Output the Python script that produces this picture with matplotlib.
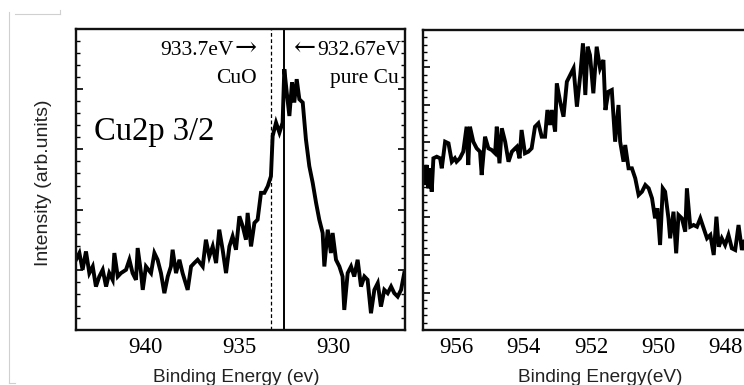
import matplotlib
matplotlib.use("Agg")
import matplotlib.pyplot as plt
from matplotlib.ticker import MultipleLocator, NullFormatter
from matplotlib.lines import Line2D

# ---------------- data ----------------
# Cu 2p3/2 region
cu_energy = [943.67, 943.49, 943.32, 943.14, 942.96, 942.78, 942.61, 942.43, 942.25, 942.07,
             941.90, 941.72, 941.63, 941.45, 941.28, 941.01, 940.83, 940.66, 940.48, 940.39,
             940.21, 940.12, 939.95, 939.68, 939.50, 939.33, 939.15, 938.97, 938.79, 938.62,
             938.53, 938.35, 938.17, 938.00, 937.73, 937.55, 937.38, 937.20, 936.93, 936.76,
             936.58, 936.40, 936.22, 936.05, 935.87, 935.69, 935.51, 935.34, 935.16, 934.98,
             934.80, 934.63, 934.54, 934.36, 934.18, 934.01, 933.83, 933.65, 933.47, 933.30,
             933.21, 933.03, 932.85, 932.68, 932.59, 932.46, 932.32, 932.18, 932.06, 931.93,
             931.79, 931.61, 931.44, 931.26, 931.08, 930.90, 930.73, 930.55, 930.46, 930.28,
             930.11, 930.02, 929.84, 929.66, 929.49, 929.40, 929.22, 929.04, 928.87, 928.69,
             928.51, 928.33, 928.16, 927.98, 927.80, 927.62, 927.45, 927.27, 927.09, 926.91,
             926.74, 926.56, 926.38, 926.21]
cu_intensity = [70.0, 76.7, 60.0, 78.3, 56.7, 63.3, 43.3, 53.3, 60.0, 43.3,
                56.7, 50.0, 76.7, 53.3, 56.7, 60.0, 70.0, 56.7, 50.0, 81.7,
                56.7, 40.0, 63.3, 56.7, 76.7, 70.0, 56.7, 36.7, 53.3, 63.3,
                80.0, 56.7, 70.0, 56.7, 40.0, 63.3, 66.7, 70.0, 63.3, 90.0,
                73.3, 83.3, 66.7, 100.0, 80.0, 56.7, 83.3, 93.3, 80.0, 113.3,
                103.3, 90.0, 116.7, 83.3, 106.7, 110.0, 136.7, 136.7, 143.3, 153.3,
                193.3, 206.7, 196.7, 206.7, 260.0, 236.7, 213.3, 246.7, 226.7, 250.0,
                230.0, 226.7, 190.0, 163.3, 146.7, 126.7, 110.0, 96.7, 63.3, 100.0,
                76.7, 96.7, 70.0, 63.3, 53.3, 20.0, 56.7, 63.3, 53.3, 70.0,
                43.3, 53.3, 50.0, 16.7, 40.0, 46.7, 23.3, 40.0, 36.7, 43.3,
                36.7, 33.3, 40.0, 56.7]

# Cu 2p1/2 region
cu2_energy = [957.00, 956.95, 956.90, 956.85, 956.80, 956.75, 956.70, 956.60, 956.50, 956.45,
              956.35, 956.25, 956.15, 956.06, 956.01, 955.91, 955.81, 955.71, 955.66, 955.61,
              955.51, 955.41, 955.31, 955.26, 955.16, 955.06, 954.96, 954.86, 954.81, 954.73,
              954.66, 954.56, 954.46, 954.36, 954.26, 954.21, 954.13, 954.07, 953.97, 953.87,
              953.77, 953.67, 953.57, 953.47, 953.37, 953.30, 953.22, 953.17, 953.07, 953.02,
              952.92, 952.82, 952.72, 952.62, 952.52, 952.42, 952.32, 952.24, 952.17, 952.10,
              952.03, 951.93, 951.83, 951.73, 951.63, 951.57, 951.48, 951.38, 951.28, 951.18,
              951.13, 951.03, 950.98, 950.88, 950.78, 950.68, 950.58, 950.48, 950.38, 950.28,
              950.18, 950.09, 950.02, 949.94, 949.86, 949.79, 949.69, 949.64, 949.54, 949.46,
              949.39, 949.29, 949.19, 949.14, 949.04, 948.94, 948.84, 948.74, 948.64, 948.54,
              948.44, 948.34, 948.26, 948.19, 948.10, 948.00, 947.90, 947.80, 947.70, 947.60,
              947.50, 947.43]
cu2_intensity = [161.7, 145.0, 165.0, 141.7, 161.7, 138.3, 171.7, 173.3, 171.7, 161.7,
                 188.3, 186.7, 168.3, 171.7, 168.3, 171.7, 178.3, 203.3, 165.0, 203.3,
                 188.3, 181.7, 178.3, 155.0, 193.3, 181.7, 180.0, 176.7, 203.3, 166.7,
                 201.7, 188.3, 168.3, 178.3, 181.7, 183.3, 171.7, 200.0, 176.7, 178.3,
                 181.7, 203.3, 206.7, 193.3, 193.3, 220.0, 205.0, 220.0, 198.3, 246.7,
                 228.3, 213.3, 248.3, 255.0, 261.7, 223.3, 255.0, 286.7, 235.0, 283.3,
                 275.0, 236.7, 283.3, 261.7, 270.0, 220.0, 238.3, 240.0, 188.3, 225.0,
                 188.3, 168.3, 185.0, 161.7, 161.7, 151.7, 135.0, 138.3, 145.0, 141.7,
                 131.7, 111.7, 121.7, 85.0, 141.7, 138.3, 111.7, 91.7, 118.3, 76.7,
                 115.0, 111.7, 98.3, 141.7, 103.3, 105.0, 103.3, 111.7, 101.7, 91.7,
                 95.0, 75.0, 113.3, 83.3, 91.7, 85.0, 95.0, 81.7, 80.0, 105.0,
                 80.0, 88.3]

left_ticks = [940, 935, 930]
right_ticks = [956, 954, 952, 950, 948]
ref_lines = [933.3, 932.6]          # drawn positions of CuO / pure Cu markers
ref_values = ["933.7eV", "932.67eV"]
ref_names = ["CuO", "pure Cu"]

# ---------------- figure ----------------
W, H = 744, 385
fig = plt.figure(figsize=(W / 100, H / 100), dpi=100)
serif = ["Liberation Serif", "DejaVu Serif"]
sans = ["Liberation Sans", "DejaVu Sans"]

def px_axes(x0, y0, x1, y1):
    return fig.add_axes([x0 / W, 1 - y1 / H, (x1 - x0) / W, (y1 - y0) / H])

def style(ax, major, minor, right=True):
    for s in ax.spines.values():
        s.set_linewidth(1.7)
        s.set_color("#111111")
    ax.yaxis.set_major_locator(MultipleLocator(major))
    ax.yaxis.set_minor_locator(MultipleLocator(minor))
    ax.yaxis.set_major_formatter(NullFormatter())
    ax.tick_params(axis="y", which="major", direction="in", length=5, width=1.2,
                   left=True, right=right)
    ax.tick_params(axis="y", which="minor", direction="in", length=3, width=1.0,
                   left=True, right=right)
    ax.tick_params(axis="x", which="both", length=0, pad=5)
    for lab in ax.get_xticklabels():
        lab.set_fontfamily(serif)
        lab.set_fontsize(16.5)

def fx(px):
    return px / W

def fy(py):
    return 1 - py / H

# left panel
ax1 = px_axes(76, 29, 405, 330)
ax1.plot(cu_energy, cu_intensity, color="black", lw=2.8, solid_joinstyle="miter")
ax1.set_xlim(943.67, 926.17)
ax1.set_ylim(0, 300)
ax1.set_xticks(left_ticks)
ax1.set_xticklabels([str(t) for t in left_ticks])
style(ax1, 60, 12)
ax1.axvline(ref_lines[0], color="black", lw=0.9, ls=(0, (3, 2)))
ax1.axvline(ref_lines[1], color="black", lw=1.4)

afs = 15.5
arrow_fs = 19
fig.text(fx(257), fy(55), "\u2192", ha="right", va="baseline", fontsize=arrow_fs,
         family=["DejaVu Serif"])
fig.text(fx(234), fy(55), ref_values[0], ha="right", va="baseline", fontsize=afs,
         family=serif)
fig.text(fx(257), fy(83), ref_names[0], ha="right", va="baseline", fontsize=afs,
         family=serif)
fig.text(fx(293), fy(55), "\u2190", ha="left", va="baseline", fontsize=arrow_fs,
         family=["DejaVu Serif"])
fig.text(fx(317), fy(55), ref_values[1], ha="left", va="baseline", fontsize=afs,
         family=serif)
fig.text(fx(399), fy(83), ref_names[1], ha="right", va="baseline", fontsize=afs,
         family=serif)
ax1.text(0.055, 0.63, "Cu2p 3/2", transform=ax1.transAxes, ha="left",
         va="baseline", fontsize=23.5, family=serif)

# right panel (cut off by the figure edge on the right)
ax2 = px_axes(423, 30, 760, 330)
ax2.plot(cu2_energy, cu2_intensity, color="black", lw=2.8, solid_joinstyle="miter")
ax2.set_xlim(957.01, 946.96)
ax2.set_ylim(0, 300)
ax2.set_xticks(right_ticks)
ax2.set_xticklabels([str(t) for t in right_ticks])
style(ax2, 37.5, 7.5, right=False)

# axis labels
fig.text(fx(236), fy(377), "Binding Energy (ev)", ha="center", va="center",
         fontsize=13.7, family=sans, color="#222222")
fig.text(fx(600), fy(377), "Binding Energy(eV)", ha="center", va="center",
         fontsize=13.7, family=sans, color="#222222")
fig.text(fx(44), fy(183), "Intensity (arb.units)", ha="center", va="center",
         rotation=90, fontsize=14, family=sans, color="#222222")

# faint frame remnants at the top-left
fig.add_artist(Line2D([fx(9), fx(9)], [fy(12), fy(383)], color="#d0d0d0", lw=0.8))
fig.add_artist(Line2D([fx(9), fx(15)], [fy(383), fy(383)], color="#d0d0d0", lw=0.8))
fig.add_artist(Line2D([fx(15), fx(60)], [fy(14), fy(14)], color="#d0d0d0", lw=0.8))
fig.add_artist(Line2D([fx(60), fx(60)], [fy(10), fy(14)], color="#d0d0d0", lw=0.8))

fig.savefig("out.png", dpi=100)
